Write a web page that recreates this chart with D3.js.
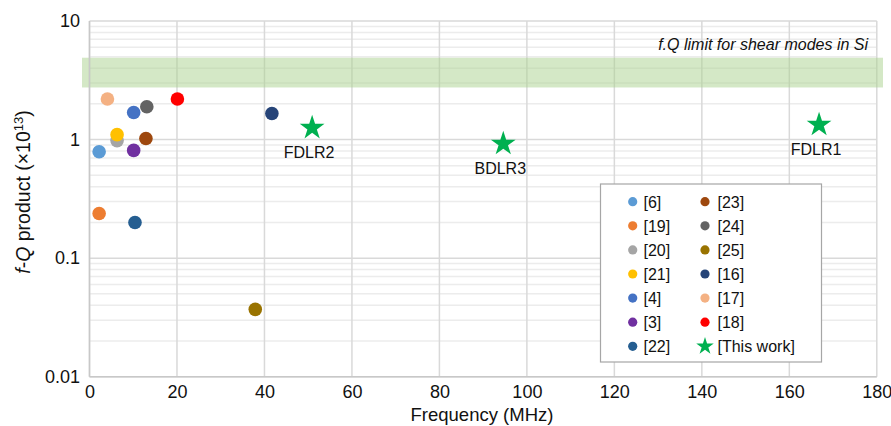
<!DOCTYPE html>
<html><head><meta charset="utf-8">
<script src="https://cdn.jsdelivr.net/npm/d3@7"></script>
<style>
body{margin:0;background:#fff;}
text{font-family:"Liberation Sans",Arial,Helvetica,sans-serif;fill:#111;}
</style></head>
<body><svg id="c" width="891" height="426"></svg>
<script>
// ---- data ----
const refLabels = ["[6]","[19]","[20]","[21]","[4]","[3]","[22]","[23]","[24]","[25]","[16]","[17]","[18]"];
const refColors = ["#5B9BD5","#ED7D31","#A5A5A5","#FFC000","#4472C4","#7030A0","#255E91","#9E480E","#636363","#997300","#264478","#F4B183","#FF0000"];
const refFreq   = [2.2, 2.2, 6.3, 6.3, 10.1, 10.1, 10.4, 12.9, 13.1, 37.9, 41.7, 4.1, 20.1];
const refFQ     = [0.79, 0.238, 0.98, 1.10, 1.69, 0.81, 0.20, 1.02, 1.89, 0.037, 1.66, 2.2, 2.2];
const workLabels = ["FDLR2","BDLR3","FDLR1"];
const workFreq   = [50.9, 94.6, 166.8];
const workFQ     = [1.28, 0.94, 1.36];
const workColor  = "#00B050";
const xTicks = [0,20,40,60,80,100,120,140,160,180];
const yTicks = [0.01,0.1,1,10];
const yTickLabels = ["0.01","0.1","1","10"];
const bandRange = [2.75, 4.9];
const bandLabel = "f.Q limit for shear modes in Si";

// ---- layout ----
const svg = d3.select("#c");
const L = 89.5, R = 876.8, T = 21, B = 376.7;
const x = d3.scaleLinear().domain([0,180]).range([L,R]);
const y = d3.scaleLog().domain([0.01,10]).range([B,T]);

// minor grid
const minor = [];
[0.01,0.1,1].forEach(d => { for (let k=2;k<=9;k++) minor.push(d*k); });
svg.append("g").selectAll("line").data(minor).join("line")
  .attr("x1",L).attr("x2",R).attr("y1",d=>y(d)).attr("y2",d=>y(d))
  .attr("stroke","#ececec").attr("stroke-width",1.5);
// major grid
svg.append("g").selectAll("line").data(yTicks).join("line")
  .attr("x1",L).attr("x2",R).attr("y1",d=>y(d)).attr("y2",d=>y(d))
  .attr("stroke","#d9d9d9").attr("stroke-width",1.5);
svg.append("g").selectAll("line").data(xTicks).join("line")
  .attr("x1",d=>x(d)).attr("x2",d=>x(d)).attr("y1",T).attr("y2",B)
  .attr("stroke","#d9d9d9").attr("stroke-width",1.5);

// band
svg.append("rect").attr("x",82).attr("width",883-82)
  .attr("y",y(bandRange[1])).attr("height",y(bandRange[0])-y(bandRange[1]))
  .attr("fill","#A9D18E").attr("opacity",0.5);
svg.append("text").attr("x",868).attr("y",50).attr("text-anchor","end")
  .attr("font-size",16).attr("font-style","italic").text(bandLabel);

// axes lines
svg.append("line").attr("x1",L).attr("x2",L).attr("y1",T).attr("y2",B).attr("stroke","#c8c8c8").attr("stroke-width",1.5);
svg.append("line").attr("x1",L).attr("x2",R).attr("y1",B).attr("y2",B).attr("stroke","#c8c8c8").attr("stroke-width",1.5);

// tick labels
const xAxis = d3.axisBottom(x).tickValues(xTicks).tickSize(0).tickPadding(8.5);
const gx = svg.append("g").attr("transform",`translate(0,${B})`).call(xAxis);
gx.select(".domain").remove();
gx.selectAll("text").attr("font-size",18).attr("fill","#111").attr("font-family","Liberation Sans, Arial, sans-serif");
const yAxis = d3.axisLeft(y).tickValues(yTicks).tickFormat((d,i)=>yTickLabels[i]).tickSize(0).tickPadding(9.5);
const gy = svg.append("g").attr("transform",`translate(${L},0)`).call(yAxis);
gy.select(".domain").remove();
gy.selectAll("text").attr("font-size",18).attr("fill","#111").attr("font-family","Liberation Sans, Arial, sans-serif");

// axis titles
svg.append("text").attr("x",482).attr("y",421).attr("text-anchor","middle").attr("font-size",18.5).text("Frequency (MHz)");
const yt = svg.append("text").attr("transform","translate(30,192) rotate(-90)").attr("text-anchor","middle").attr("font-size",19.5);
yt.append("tspan").attr("font-style","italic").text("f");
yt.append("tspan").text("-");
yt.append("tspan").attr("font-style","italic").text("Q");
yt.append("tspan").text(" product (×10");
yt.append("tspan").attr("font-size",13).attr("dy",-7).text("13");
yt.append("tspan").attr("dy",7).text(")");

// reference points
const refData = refLabels.map((l,i)=>({l,c:refColors[i],f:refFreq[i],v:refFQ[i]}));
svg.append("g").selectAll("circle").data(refData).join("circle")
  .attr("cx",d=>x(d.f)).attr("cy",d=>y(d.v)).attr("r",6.8).attr("fill",d=>d.c);

// this work
const star = d3.symbol().type(d3.symbolStar);
const wData = workLabels.map((l,i)=>({l,f:workFreq[i],v:workFQ[i]}));
const wg = svg.append("g");
wg.selectAll("path").data(wData).join("path")
  .attr("d",star.size(190)()).attr("transform",d=>`translate(${x(d.f)},${y(d.v)+1})`).attr("fill",workColor);
wg.selectAll("text").data(wData).join("text")
  .attr("x",d=>x(d.f)-3).attr("y",d=>y(d.v)+31).attr("text-anchor","middle").attr("font-size",16).text(d=>d.l);

// legend
const lg = svg.append("g");
lg.append("rect").attr("x",600.5).attr("y",184).attr("width",221).attr("height",178)
  .attr("fill","#fff").attr("stroke","#a6a6a6").attr("stroke-width",1.2);
const legItems = refData.map(d=>({l:d.l,c:d.c,star:false})).concat([{l:"[This work]",c:workColor,star:true}]);
legItems.forEach((d,i)=>{
  const col = i<7?0:1, row = i%7;
  const mx = col===0?632.7:705, tx = col===0?643.5:717.5, cy = 201.7+row*24.1;
  if (d.star) lg.append("path").attr("d",star.size(95)()).attr("transform",`translate(${mx},${cy})`).attr("fill",d.c);
  else lg.append("circle").attr("cx",mx).attr("cy",cy).attr("r",4.6).attr("fill",d.c);
  lg.append("text").attr("x",tx).attr("y",cy+6).attr("font-size",16).text(d.l);
});
</script></body></html>
